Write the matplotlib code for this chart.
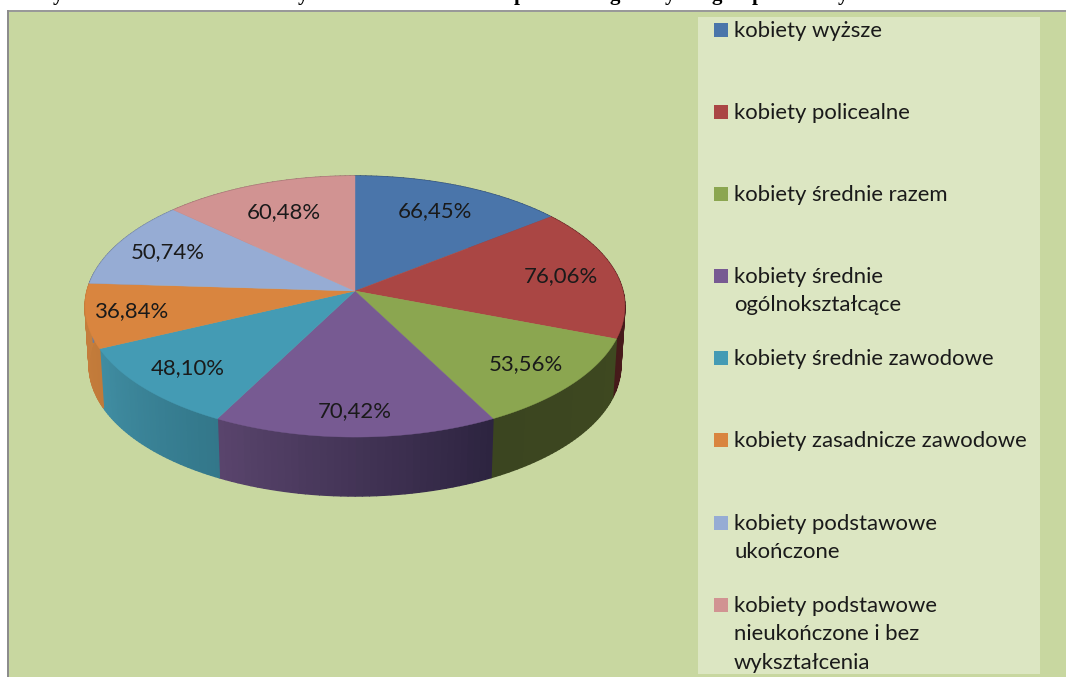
import matplotlib
matplotlib.use("Agg")
import matplotlib.pyplot as plt
from matplotlib.collections import PolyCollection
from matplotlib.colors import to_rgb
from matplotlib.patches import Polygon, Rectangle
import numpy as np

# Data
values = [66.45, 76.06, 53.56, 70.42, 48.10, 36.84, 50.74, 60.48]
value_labels = ['66,45%', '76,06%', '53,56%', '70,42%', '48,10%', '36,84%', '50,74%', '60,48%']
legend_labels = [
    'kobiety wyższe',
    'kobiety policealne',
    'kobiety średnie razem',
    'kobiety średnie\nogólnokształcące',
    'kobiety średnie zawodowe',
    'kobiety zasadnicze zawodowe',
    'kobiety podstawowe\nukończone',
    'kobiety podstawowe\nnieukończone i bez\nwykształcenia',
]
# only the descenders of the cropped title are left in the picture
title_letters = ['y', 'y', 'p', 'g', 'y', 'g', 'p', 'y']

# Style
top_colors = ['#4a75aa', '#aa4644', '#8ba650', '#775a92', '#449bb4', '#d9853f', '#96acd4', '#d19392']
wall_colors = [
    ('#2f4a6c', '#2f4a6c'), ('#5a2020', '#451a1a'), ('#3e4820', '#3b4520'), ('#2d2440', '#59446c'),
    ('#33778a', '#408da2'), ('#c17a3a', '#c67e3c'), ('#6d7d9a', '#6d7d9a'), ('#97696a', '#97696a'),
]
label_radius = [0.74, 0.79, 0.80, 0.84, 0.81, 0.83, 0.79, 0.72]
legend_y = [30, 112, 194, 276, 358, 440, 523, 605]
title_x = [58, 303, 520, 615, 670, 717, 758, 843]
BG = '#c8d7a0'
FONT = 'Lato'

# pie geometry, in pixels
CX, CY = 355, 291
RX, RY, K = 268, 128.7, 0.1188
DEPTH = 59
BOTTOM_SCALE = 0.985


def project(theta, r=1.0):
    # clockwise from 12 o'clock, with a bit of perspective
    u = r * np.sin(np.radians(theta))
    v = -r * np.cos(np.radians(theta))
    d = 1 - K * v
    return CX + RX * u / d, CY + RY * v / d


def mix(c1, c2, t):
    a, b = np.array(to_rgb(c1)), np.array(to_rgb(c2))
    return tuple(a + (b - a) * t)


fig = plt.figure(figsize=(10.66, 6.77), dpi=100, facecolor='white')
ax = fig.add_axes([0, 0, 1, 1])
ax.set_xlim(0, 1066)
ax.set_ylim(677, 0)
ax.axis('off')

# chart area
ax.add_patch(Rectangle((7, 10), 1060, 668, facecolor=BG, edgecolor='none'))
ax.add_patch(Rectangle((7, 10), 1060, 1.5, facecolor='#999999', edgecolor='none'))
ax.add_patch(Rectangle((7, 10), 2, 668, facecolor='#8c8c8c', edgecolor='none'))
ax.add_patch(Rectangle((698, 17), 342, 657, facecolor='#dce6c2', edgecolor='none'))

for x, ch in zip(title_x, title_letters):
    ax.text(x, 0, ch, family='Liberation Serif', fontweight='bold', fontsize=15,
            ha='center', va='baseline', color='black')

edges = np.concatenate([[0], np.cumsum(values)]) / sum(values) * 360

# side wall first, split into thin strips for the shading
quads, colors = [], []
for i in range(len(values)):
    steps = np.linspace(edges[i], edges[i + 1], 41)
    for j in range(40):
        x0, y0 = project(steps[j])
        x1, y1 = project(steps[j + 1])
        bx0 = CX + BOTTOM_SCALE * (x0 - CX)
        bx1 = CX + BOTTOM_SCALE * (x1 - CX)
        quads.append([(x0, y0), (x1, y1), (bx1, y1 + DEPTH), (bx0, y0 + DEPTH)])
        colors.append(mix(wall_colors[i][0], wall_colors[i][1], j / 39))
ax.add_collection(PolyCollection(quads, facecolors=colors, edgecolors=colors, linewidths=1.0))

# top faces
for i in range(len(values)):
    t = np.linspace(edges[i], edges[i + 1], 80)
    xs, ys = project(t)
    pts = [(CX, CY)] + list(zip(xs, ys))
    ax.add_patch(Polygon(pts, closed=True, facecolor=top_colors[i], edgecolor=top_colors[i], linewidth=0.3))

# data labels
for i, lab in enumerate(value_labels):
    mid = (edges[i] + edges[i + 1]) / 2
    x, y = project(mid, label_radius[i])
    ax.text(x, y, lab, family=FONT, fontsize=15.9, ha='center', va='center', color='#1a1a1a')

# legend
for i, lab in enumerate(legend_labels):
    y = legend_y[i]
    ax.add_patch(Rectangle((714, y - 7), 14, 14, facecolor=top_colors[i], edgecolor='none'))
    ax.text(734, y - 9, lab, family=FONT, fontsize=15.9, ha='left', va='top',
            color='#1a1a1a', linespacing=1.53)

fig.savefig('out.png', dpi=100)
